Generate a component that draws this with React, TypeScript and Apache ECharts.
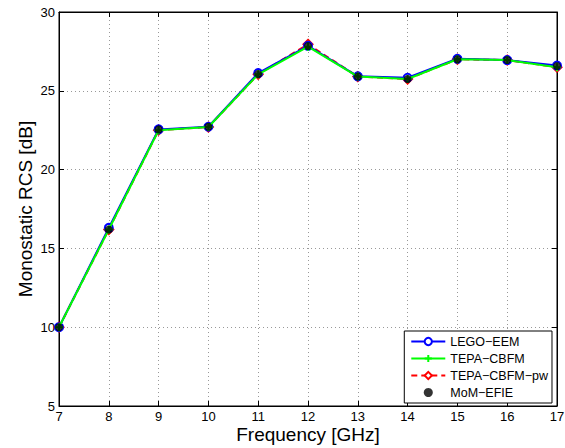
import React, { useEffect, useRef } from "react";
import * as echarts from "echarts";

const freq = [7, 8, 9, 10, 11, 12, 13, 14, 15, 16, 17];
const legoEEM = [10.0, 16.3, 22.55, 22.72, 26.12, 27.85, 25.92, 25.83, 27.03, 26.95, 26.6];
const tepaCBFM = [10.0, 16.2, 22.5, 22.7, 26.05, 27.8, 25.9, 25.75, 27.0, 26.95, 26.5];
const tepaCBFMpw = [10.0, 16.2, 22.5, 22.7, 26.05, 27.95, 25.9, 25.75, 27.0, 26.95, 26.5];
const momEFIE = [10.0, 16.2, 22.55, 22.72, 26.07, 27.84, 25.9, 25.75, 27.0, 26.95, 26.57];

const pairs = (ys: number[]) => freq.map((x, i) => [x, ys[i]]);

const FONT = "Liberation Sans, Arial, Helvetica, sans-serif";

export default function App() {
  const ref = useRef<HTMLDivElement>(null);
  useEffect(() => {
    if (!ref.current) return;
    const chart = echarts.init(ref.current, undefined, { renderer: "svg" });
    const axisLine = { show: true, lineStyle: { color: "#000", width: 1 } };
    chart.setOption({
      animation: false,
      backgroundColor: "#fff",
      textStyle: { fontFamily: FONT },
      grid: {
        left: 59, right: 8, top: 12, bottom: 42, show: true, borderColor: "#000", borderWidth: 1,
        backgroundColor: "transparent", containLabel: false, outerBoundsMode: "none",
      },
      legend: {
        orient: "vertical",
        right: 13,
        top: 331,
        backgroundColor: "#fff",
        borderColor: "#000",
        borderWidth: 1,
        borderRadius: 0,
        padding: [4, 4, 4, 6],
        itemGap: 4,
        itemWidth: 34,
        itemHeight: 9,
        textStyle: { fontFamily: FONT, fontSize: 12.5, color: "#000" },
        data: ["LEGO\u2212EEM", "TEPA\u2212CBFM", "TEPA\u2212CBFM\u2212pw", "MoM\u2212EFIE"],
      },
      xAxis: [
        {
          type: "value", min: 7, max: 17, interval: 1,
          name: "Frequency [GHz]", nameLocation: "middle", nameGap: 19, nameMoveOverlap: false,
          nameTextStyle: { fontSize: 19, lineHeight: 19, color: "#000", fontFamily: FONT },
          axisLine, axisTick: { inside: true, length: 5, lineStyle: { color: "#000" } },
          axisLabel: { fontSize: 13, lineHeight: 13, color: "#000", margin: 4, fontFamily: FONT },
          splitLine: { show: true, lineStyle: { color: "#999", type: [1, 3], width: 1 } },
        },
        {
          type: "value", min: 7, max: 17, interval: 1, position: "top",
          axisLine, axisTick: { inside: true, length: 5, lineStyle: { color: "#000" } },
          axisLabel: { show: false }, splitLine: { show: false },
        },
      ],
      yAxis: [
        {
          type: "value", min: 5, max: 30, interval: 5,
          name: "Monostatic RCS [dB]", nameLocation: "middle", nameGap: 24, nameMoveOverlap: false,
          nameTextStyle: { fontSize: 19, color: "#000", fontFamily: FONT },
          axisLine, axisTick: { inside: true, length: 5, lineStyle: { color: "#000" } },
          axisLabel: { fontSize: 13, color: "#000", margin: 4, fontFamily: FONT },
          splitLine: { show: true, lineStyle: { color: "#999", type: [1, 3], width: 1 } },
        },
        {
          type: "value", min: 5, max: 30, interval: 5, position: "right",
          axisLine, axisTick: { inside: true, length: 5, lineStyle: { color: "#000" } },
          axisLabel: { show: false }, splitLine: { show: false },
        },
      ],
      series: [
        {
          name: "TEPA\u2212CBFM\u2212pw", type: "line", data: pairs(tepaCBFMpw),
          symbol: "diamond", symbolSize: 9,
          lineStyle: { color: "#ff0000", width: 2, type: [6, 4] },
          itemStyle: { color: "#fff", borderColor: "#ff0000", borderWidth: 2 },
          z: 1,
        },
        {
          name: "LEGO\u2212EEM", type: "line", data: pairs(legoEEM),
          symbol: "circle", symbolSize: 8, showSymbol: true,
          lineStyle: { color: "#0000ff", width: 2 },
          itemStyle: { color: "#fff", borderColor: "#0000ff", borderWidth: 2 },
          z: 2,
        },
        {
          name: "TEPA\u2212CBFM", type: "line", data: pairs(tepaCBFM),
          symbol: "path://M5,0V10M0,5H10", symbolSize: 8,
          lineStyle: { color: "#00ff00", width: 2 },
          itemStyle: { color: "#00ff00", borderColor: "#00ff00", borderWidth: 2 },
          z: 3,
        },
        {
          name: "MoM\u2212EFIE", type: "scatter", data: pairs(momEFIE),
          symbol: "circle", symbolSize: 8,
          itemStyle: { color: "#000" },
          z: 5,
        },
      ],
    });
    return () => chart.dispose();
  }, []);
  return <div ref={ref} style={{ width: 565, height: 448, position: "fixed", left: 0, top: 0 }} />;
}
